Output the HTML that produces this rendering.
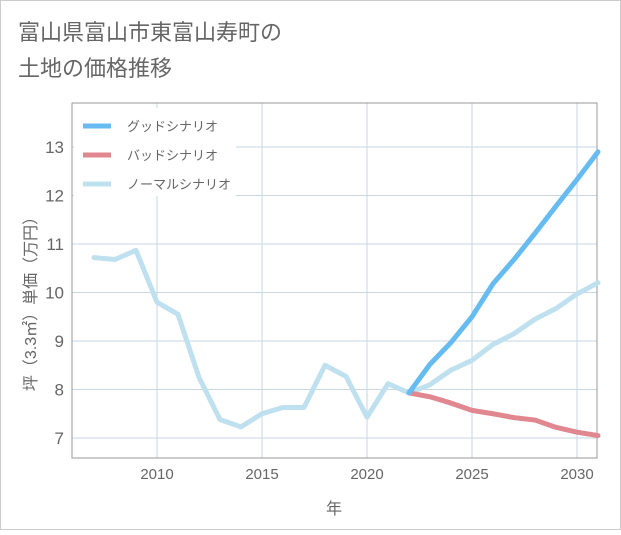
<!DOCTYPE html>
<html><head><meta charset="utf-8"><style>
body{margin:0;background:#fff;}
svg text{font-family:"Liberation Sans","Noto Sans CJK JP",sans-serif;}
</style></head><body>
<svg width="621" height="530" xmlns="http://www.w3.org/2000/svg">
<rect x="0.5" y="0.5" width="620" height="529" fill="#fff" stroke="#ccc"/>
<text x="18" y="40" font-size="22" fill="#666">富山県富山市東富山寿町の</text>
<text x="18" y="76" font-size="22" fill="#666">土地の価格推移</text>
<g id="grid"></g>
<g id="axes"></g>
<g id="series"></g>
<g id="legend"></g>
</svg>
<script>
const years=[2007,2008,2009,2010,2011,2012,2013,2014,2015,2016,2017,2018,2019,2020,2021,2022,2023,2024,2025,2026,2027,2028,2029,2030,2031];
const normalVals=[10.72,10.68,10.87,9.8,9.55,8.25,7.38,7.23,7.5,7.63,7.63,8.5,8.27,7.43,8.12,7.93,8.1,8.4,8.6,8.93,9.15,9.45,9.67,9.97,10.2];
const futureYears=[2022,2023,2024,2025,2026,2027,2028,2029,2030,2031];
const goodVals=[7.93,8.52,8.97,9.5,10.18,10.68,11.22,11.78,12.33,12.9];
const badVals=[7.93,7.85,7.72,7.57,7.5,7.42,7.37,7.22,7.12,7.05];
const xTicks=[2010,2015,2020,2025,2030];
const yTicks=[7,8,9,10,11,12,13];
const NS="http://www.w3.org/2000/svg";
const L=72,R=597,T=103,B=458;
const xs=y=>157+(y-2010)*21;
const ys=v=>438-(v-7)*48.5;
function mk(tag,attrs,parent){const e=document.createElementNS(NS,tag);for(const k in attrs)e.setAttribute(k,attrs[k]);document.getElementById(parent).appendChild(e);return e;}
for(const t of yTicks){
 const l=mk('line',{x1:L,x2:R,y1:ys(t),y2:ys(t),stroke:'#c9d6e3','stroke-width':1},'grid');
 
 
 const tx=mk('text',{x:L-8,y:ys(t)+6,'text-anchor':'end','font-size':17,fill:'#666'},'axes');
 tx.textContent=t;
 
 
}
for(const t of xTicks){
 const l=mk('line',{x1:xs(t),x2:xs(t),y1:T,y2:B,stroke:'#c9d6e3','stroke-width':1},'grid');
 
 
 const tx=mk('text',{x:xs(t),y:B+21,'text-anchor':'middle','font-size':15,fill:'#666'},'axes');
 tx.textContent=t;
 
 
}
const bx=mk('rect',{x:L,y:T,width:R-L,height:B-T,fill:'none',stroke:'#999','stroke-width':1},'axes');


const xt=mk('text',{x:334,y:514,'text-anchor':'middle','font-size':16,fill:'#666'},'axes');
xt.textContent='年';


const yt=mk('text',{x:0,y:0,'text-anchor':'middle','font-size':16,fill:'#666',transform:'translate(36,300) rotate(-90)'},'axes');
yt.textContent='坪（3.3㎡）単価（万円）';


function line(xv,yv,color,name){
 const p=mk('polyline',{points:xv.map((x,i)=>xs(x)+','+ys(yv[i])).join(' '),fill:'none',stroke:color,'stroke-width':5,'stroke-linejoin':'round','stroke-linecap':'round'},'series');
 
 
}
line(years,normalVals,'#bfe0ee','normal-scenario-line');
line(futureYears,badVals,'#e0878f','bad-scenario-line');
line(futureYears,goodVals,'#66bbf0','good-scenario-line');
const lb=mk('rect',{x:74,y:108,width:162,height:88,fill:'#fff'},'legend');


const leg=[['グッドシナリオ','#66bbf0'],['バッドシナリオ','#e0878f'],['ノーマルシナリオ','#bfe0ee']];
leg.forEach((d,i)=>{
 const y=126+i*29;
 const s=mk('line',{x1:83,x2:111,y1:y,y2:y,stroke:d[1],'stroke-width':5},'legend');
 
 
 const t=mk('text',{x:127,y:y+5,'font-size':13,fill:'#666'},'legend');
 t.textContent=d[0];
 
 
});
</script>
</body></html>
